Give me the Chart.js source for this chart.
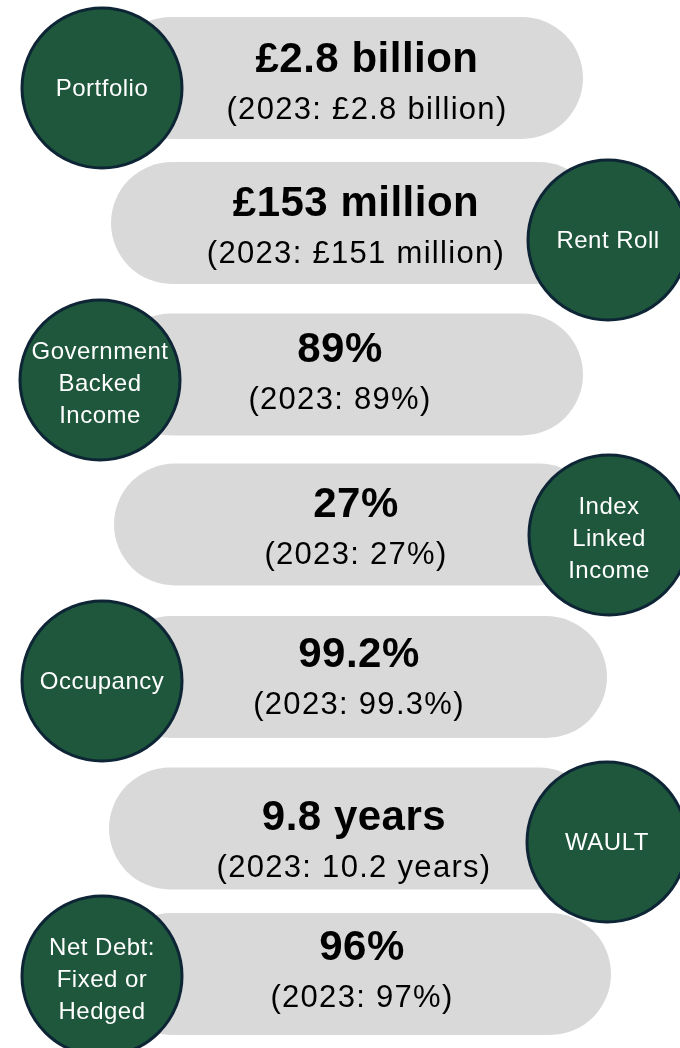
<!DOCTYPE html>
<html>
<head>
<meta charset="utf-8">
<title>Key metrics</title>
<script src="https://cdn.jsdelivr.net/npm/chart.js@4.4.1/dist/chart.umd.min.js"></script>
<style>
    html, body { margin: 0; padding: 0; background: #ffffff; }
    #wrap { width: 680px; height: 1048px; }
</style>
</head>
<body>
<div id="wrap"><canvas id="kpiChart" width="680" height="1048"></canvas></div>
<script>
// metrics shown on the infographic
const badgeLabels = [
    ['Portfolio'],
    ['Rent Roll'],
    ['Government', 'Backed', 'Income'],
    ['Index', 'Linked', 'Income'],
    ['Occupancy'],
    ['WAULT'],
    ['Net Debt:', 'Fixed or', 'Hedged']
];
const currentValues = ['£2.8 billion', '£153 million', '89%', '27%', '99.2%', '9.8 years', '96%'];
const priorValues = ['(2023: £2.8 billion)', '(2023: £151 million)', '(2023: 89%)', '(2023: 27%)',
    '(2023: 99.3%)', '(2023: 10.2 years)', '(2023: 97%)'];

// layout, in page pixels (the axes run 0..680 and 0..1048)
const rowY = [78, 223, 374.5, 524.5, 677, 828.5, 974];
const pillFrom = [110, 111, 110, 114, 110, 109, 110];
const pillTo = [583, 600, 583, 600, 607, 600, 611];
const badgeX = [102, 608, 100, 609, 102, 607, 102];
const badgeY = [88, 240, 380, 535, 681, 842, 976];
const textX = [367, 356, 340, 356, 359, 354, 362];
const textY = [72, 216, 362, 517, 667, 830, 960];

const GREEN = '#1e573c';
const NAVY = '#0d2535';
const PILL = '#d9d9d9';

const textPlugin = {
    id: 'kpiText',
    afterDatasetsDraw(chart) {
        const ctx = chart.ctx;
        const xs = chart.scales.x;
        const ys = chart.scales.y;
        ctx.save();
        ctx.textAlign = 'center';
        ctx.textBaseline = 'alphabetic';

        currentValues.forEach((val, i) => {
            const x = xs.getPixelForValue(textX[i]);
            const y = ys.getPixelForValue(textY[i]);
            ctx.fillStyle = '#000000';
            ctx.font = 'bold 42px "Liberation Sans", Arial, sans-serif';
            ctx.letterSpacing = '0.5px';
            ctx.fillText(val, x, y);
            ctx.font = '31px "Liberation Sans", Arial, sans-serif';
            ctx.letterSpacing = '1.3px';
            ctx.fillText(priorValues[i], x, y + 47);
        });

        ctx.fillStyle = '#ffffff';
        ctx.font = '24px "Liberation Sans", Arial, sans-serif';
        ctx.letterSpacing = '0.5px';
        ctx.textBaseline = 'middle';
        badgeLabels.forEach((lines, i) => {
            const x = xs.getPixelForValue(badgeX[i]);
            const cy = ys.getPixelForValue(badgeY[i]) + (lines.length > 1 ? 4 : 1);
            const lh = 32;
            lines.forEach((line, j) => {
                ctx.fillText(line, x, cy + (j - (lines.length - 1) / 2) * lh);
            });
        });
        ctx.restore();
    }
};

const ctx = document.getElementById('kpiChart').getContext('2d');
new Chart(ctx, {
    type: 'bar',
    data: {
        datasets: [
            {
                type: 'bubble',
                order: 1,
                data: badgeX.map((x, i) => ({ x: x, y: badgeY[i] })),
                radius: 80,
                backgroundColor: GREEN,
                borderColor: NAVY,
                borderWidth: 3,
                clip: false
            },
            {
                type: 'bar',
                order: 2,
                indexAxis: 'y',
                data: rowY.map((y, i) => ({ x: [pillFrom[i], pillTo[i]], y: y })),
                backgroundColor: PILL,
                borderWidth: 0,
                borderSkipped: false,
                borderRadius: 61,
                barThickness: 122,
                grouped: false,
                inflateAmount: 0,
                clip: false
            }
        ]
    },
    options: {
        indexAxis: 'y',
        responsive: false,
        animation: false,
        events: [],
        layout: { padding: 0, autoPadding: false },
        plugins: {
            legend: { display: false },
            tooltip: { enabled: false }
        },
        scales: {
            x: { type: 'linear', min: 0, max: 680, offset: false, display: false },
            y: { type: 'linear', min: 0, max: 1048, reverse: true, offset: false, display: false }
        }
    },
    plugins: [textPlugin]
});
</script>
</body>
</html>
